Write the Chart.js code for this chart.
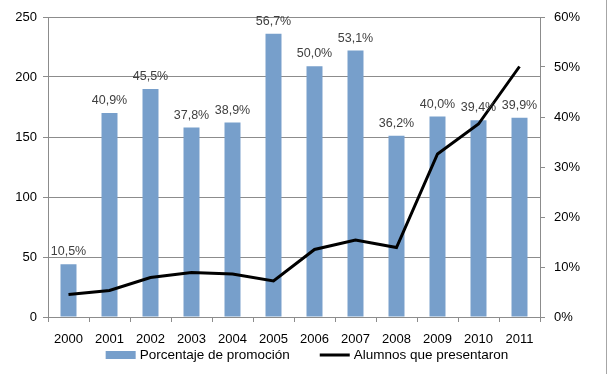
<!DOCTYPE html>
<html>
<head>
<meta charset="utf-8">
<script src="https://cdn.jsdelivr.net/npm/chart.js@4/dist/chart.umd.min.js"></script>
<style>
  html, body { margin: 0; padding: 0; background: #fff; }
  #wrap { position: relative; width: 614px; height: 374px; }
  #edge { position: absolute; left: 606px; top: 0; width: 1px; height: 374px; background: #a6a6a6; }
</style>
</head>
<body>
<div id="wrap">
  <canvas id="chart" width="614" height="374"></canvas>
  <div id="edge"></div>
</div>
<script>
"use strict";

var years = ["2000", "2001", "2002", "2003", "2004", "2005", "2006", "2007", "2008", "2009", "2010", "2011"];
var promocion = [44, 170, 190, 158, 162, 236, 209, 222, 151, 167, 164, 166];
var promocionLabels = ["10,5%", "40,9%", "45,5%", "37,8%", "38,9%", "56,7%", "50,0%", "53,1%", "36,2%", "40,0%", "39,4%", "39,9%"];
var presentaron = [4.5, 5.3, 7.9, 8.9, 8.6, 7.2, 13.5, 15.4, 13.9, 32.6, 38.6, 50.1];

var fontFamily = "'Liberation Sans', Arial, sans-serif";
var gridColor = "#8c8c8c";
var barColor = "#779fcb";

// draws the percentage text above each bar
var barLabels = {
  id: "barLabels",
  afterDatasetsDraw: function(chart) {
    var ctx = chart.ctx;
    var meta = chart.getDatasetMeta(1);
    ctx.save();
    ctx.font = "12.5px " + fontFamily;
    ctx.fillStyle = "#404040";
    ctx.textAlign = "center";
    ctx.textBaseline = "bottom";
    meta.data.forEach(function(bar, i) {
      ctx.fillText(promocionLabels[i], bar.x, bar.y - 6);
    });
    ctx.restore();
  }
};

// bottom legend, centred, with a wider gap than the built-in one allows
var bottomLegend = {
  id: "bottomLegend",
  afterDraw: function(chart) {
    var ctx = chart.ctx;
    var items = [
      { text: "Porcentaje de promoción", kind: "box" },
      { text: "Alumnos que presentaron", kind: "line" }
    ];
    var symW = 30, symGap = 4, itemGap = 30;
    var y = chart.height - 19;
    ctx.save();
    ctx.font = "13.5px " + fontFamily;
    ctx.textBaseline = "middle";
    var total = 0;
    items.forEach(function(it, i) {
      it.w = symW + symGap + ctx.measureText(it.text).width;
      total += it.w + (i > 0 ? itemGap : 0);
    });
    var x = (chart.width - total) / 2;
    items.forEach(function(it) {
      if (it.kind === "box") {
        ctx.fillStyle = barColor;
        ctx.fillRect(x, y - 4, symW, 8);
      } else {
        ctx.fillStyle = "#000";
        ctx.fillRect(x, y - 1.5, symW, 3);
      }
      ctx.fillStyle = "#000";
      ctx.fillText(it.text, x + symW + symGap, y);
      x += it.w + itemGap;
    });
    ctx.restore();
  }
};

new Chart(document.getElementById("chart"), {
  data: {
    labels: years,
    datasets: [{
      type: "line",
      label: "Alumnos que presentaron",
      data: presentaron,
      yAxisID: "y1",
      borderColor: "#000",
      backgroundColor: "#000",
      borderWidth: 3,
      pointRadius: 0,
      tension: 0,
      order: 0
    }, {
      type: "bar",
      label: "Porcentaje de promoción",
      data: promocion,
      yAxisID: "y",
      backgroundColor: barColor,
      categoryPercentage: 1,
      barPercentage: 0.39,
      order: 1
    }]
  },
  plugins: [barLabels, bottomLegend],
  options: {
    responsive: false,
    animation: false,
    layout: { padding: { top: 17, left: 0, right: 0, bottom: 27 } },
    plugins: {
      tooltip: { enabled: false },
      legend: { display: false }
    },
    scales: {
      x: {
        grid: { drawOnChartArea: false, offset: true, tickLength: 5, color: gridColor },
        border: { color: gridColor },
        ticks: { font: { family: fontFamily, size: 13 }, color: "#000", padding: 10 },
        afterFit: function(scale) { scale.height = 30; }
      },
      y: {
        position: "left",
        min: 0,
        max: 250,
        ticks: { stepSize: 50, font: { family: fontFamily, size: 13 }, color: "#000", padding: 6 },
        grid: { color: gridColor, tickLength: 5 },
        border: { color: gridColor },
        afterFit: function(scale) { scale.width = 48; }
      },
      y1: {
        position: "right",
        min: 0,
        max: 60,
        ticks: {
          stepSize: 10,
          font: { family: fontFamily, size: 13 },
          color: "#000",
          padding: 9,
          callback: function(v) { return v + "%"; }
        },
        grid: { drawOnChartArea: false, color: gridColor, tickLength: 5 },
        border: { color: gridColor },
        afterFit: function(scale) { scale.width = 74; }
      }
    }
  }
});
</script>
</body>
</html>
